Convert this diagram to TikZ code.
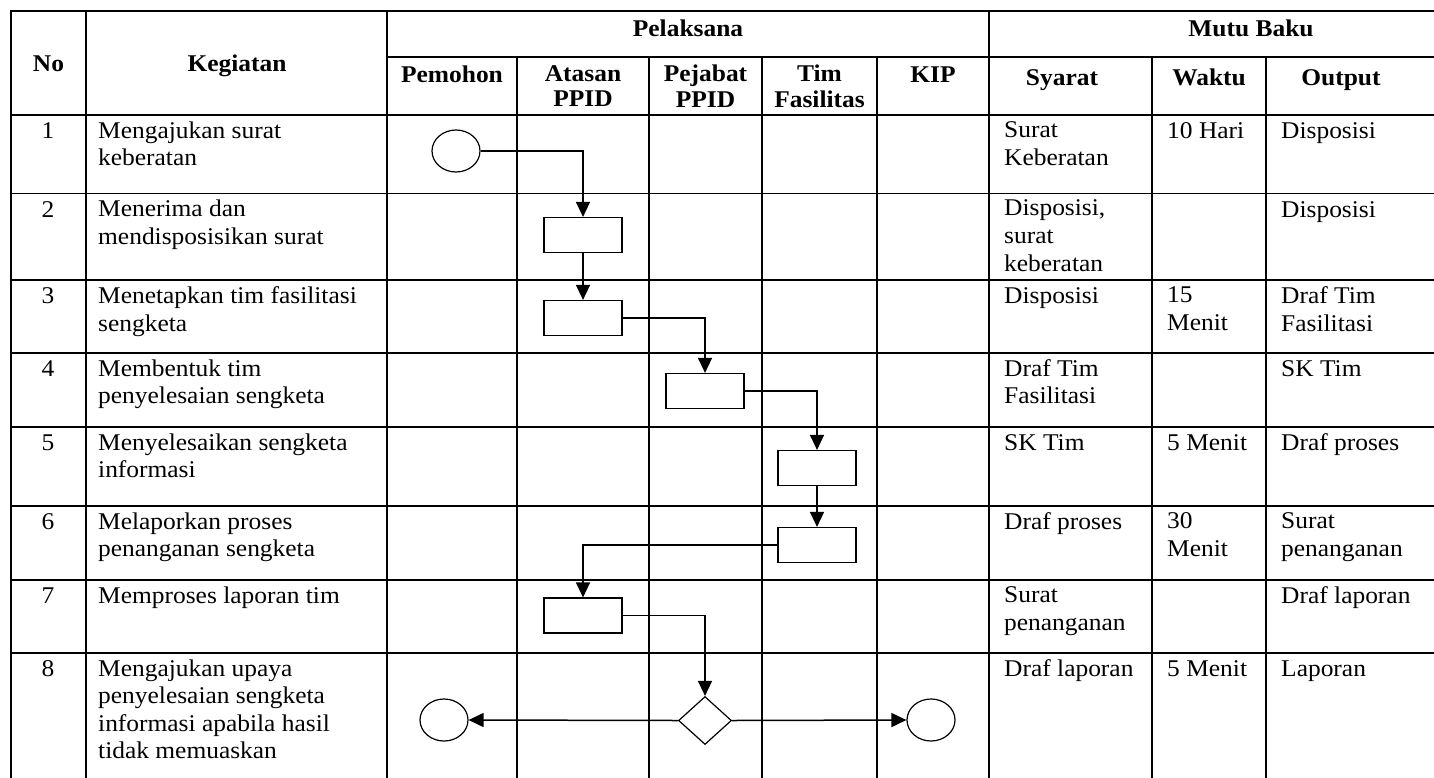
\documentclass[tikz,border=0pt]{standalone}
\usepackage{fontspec}
\setmainfont{Liberation Serif}[FakeStretch=1.06]
\usetikzlibrary{arrows.meta,shapes.geometric}
\newcommand{\isifont}{\fontsize{24}{27.6}\selectfont}
\newcommand{\judulfont}{\fontsize{24}{25.6}\selectfont\bfseries}

\begin{document}
\begin{tikzpicture}[x=1pt,y=-1pt,
  garis/.style={line width=1.6pt, line cap=rect},
  isi/.style={anchor=north west, inner sep=0pt, align=left, font=\isifont,
              execute at begin node={\rule{0pt}{17pt}}},
  nomor/.style={isi, anchor=north, align=center},
  judul/.style={anchor=north, inner sep=0pt, align=center, font=\judulfont,
              execute at begin node={\rule{0pt}{17pt}}},
  proses/.style={draw, line width=1.2pt, minimum width=78pt, minimum height=35pt, inner sep=0pt},
  terminal/.style={draw, ellipse, line width=1.2pt, minimum width=48pt, minimum height=42pt, inner sep=0pt},
  keputusan/.style={draw, diamond, line width=1.2pt, minimum width=53pt, minimum height=48pt, inner sep=0pt},
  alur/.style={-{Triangle[length=15pt,width=14pt]}, line width=1.5pt}]
\useasboundingbox (0,0) rectangle (1434,777);
\draw[garis] (11,11) -- (1434,11);
\draw[garis] (387,57) -- (1434,57);
\foreach \y in {115,193.3,280,352.7,426.7,506,580,652.7}
  \draw[garis] (11,\y) -- (1434,\y);
\foreach \x in {11,86,387,989}
  \draw[garis] (\x,11) -- (\x,777);
\foreach \x in {517,649,762,877,1152,1266}
  \draw[garis] (\x,57) -- (\x,777);
\node[judul] (hNo)   at (48.5,54) {No};
\node[judul] (hKeg)  at (237,54)  {Kegiatan};
\node[judul] (hPel)  at (688,19)  {Pelaksana};
\node[judul] (hMutu) at (1251,19) {Mutu Baku};
\node[judul] (hPem)  at (452,65)  {Pemohon};
\node[judul] (hAta)  at (583,65)  {Atasan\\PPID};
\node[judul] (hPej)  at (705.5,65) {Pejabat\\PPID};
\node[judul] (hTim)  at (819.5,65) {Tim\\Fasilitas};
\node[judul] (hKip)  at (933,65)  {KIP};
\node[judul] (hSya)  at (1062,68) {Syarat};
\node[judul] (hWak)  at (1209,68) {Waktu};
\node[judul] (hOut)  at (1341,68) {Output};
\def\baris#1#2#3#4#5#6{%
  \node[nomor] (no#1)  at (48,#2+6.5)   {#1};
  \node[isi]   (keg#1) at (98,#2+6.5)   {#3};
  \node[isi]   (sy#1)  at (1004,#2+6.5) {#4};
  \node[isi]   (wk#1)  at (1167,#2+6.5) {#5};
  \node[isi]   (out#1) at (1281,#2+6.5) {#6};}
\baris{1}{115}{Mengajukan surat\\keberatan}{Surat\\Keberatan}{10 Hari}{Disposisi}
\baris{2}{193.3}{Menerima dan\\mendisposisikan surat}{Disposisi,\\surat\\keberatan}{}{Disposisi}
\baris{3}{280}{Menetapkan tim fasilitasi\\sengketa}{Disposisi}{15\\Menit}{Draf Tim\\Fasilitasi}
\baris{4}{352.7}{Membentuk tim\\penyelesaian sengketa}{Draf Tim\\Fasilitasi}{}{SK Tim}
\baris{5}{426.7}{Menyelesaikan sengketa\\informasi}{SK Tim}{5 Menit}{Draf proses}
\baris{6}{506}{Melaporkan proses\\penanganan sengketa}{Draf proses}{30\\Menit}{Surat\\penanganan}
\baris{7}{580}{Memproses laporan tim}{Surat\\penanganan}{}{Draf laporan}
\baris{8}{652.7}{Mengajukan upaya\\penyelesaian sengketa\\informasi apabila hasil\\tidak memuaskan}{Draf laporan}{5 Menit}{Laporan}
\node[terminal]  (mulai)      at (456,151)   {};
\node[proses]    (terima)     at (583,235)   {};
\node[proses]    (tetap)      at (583,318)   {};
\node[proses]    (bentuk)     at (705,391)   {};
\node[proses]    (selesai)    at (817,468)   {};
\node[proses]    (lapor)      at (817,545)   {};
\node[proses]    (olah)       at (583,615.5) {};
\node[keputusan] (upaya)      at (705,720.5) {};
\node[terminal]  (akhirkiri)  at (444,720)   {};
\node[terminal]  (akhirkanan) at (931,720)   {};
\draw[alur] (mulai.east) -| (terima.north);
\draw[alur] (terima.south) -- (tetap.north);
\draw[alur] (tetap.east) -| (bentuk.north);
\draw[alur] (bentuk.east) -| (selesai.north);
\draw[alur] (selesai.south) -- (lapor.north);
\draw[alur] (lapor.west) -| (olah.north);
\draw[alur] (olah.east) -| (upaya.north);
\draw[alur] (upaya.west) -- (akhirkiri.east);
\draw[alur] (upaya.east) -- (akhirkanan.west);
\end{tikzpicture}
\end{document}
